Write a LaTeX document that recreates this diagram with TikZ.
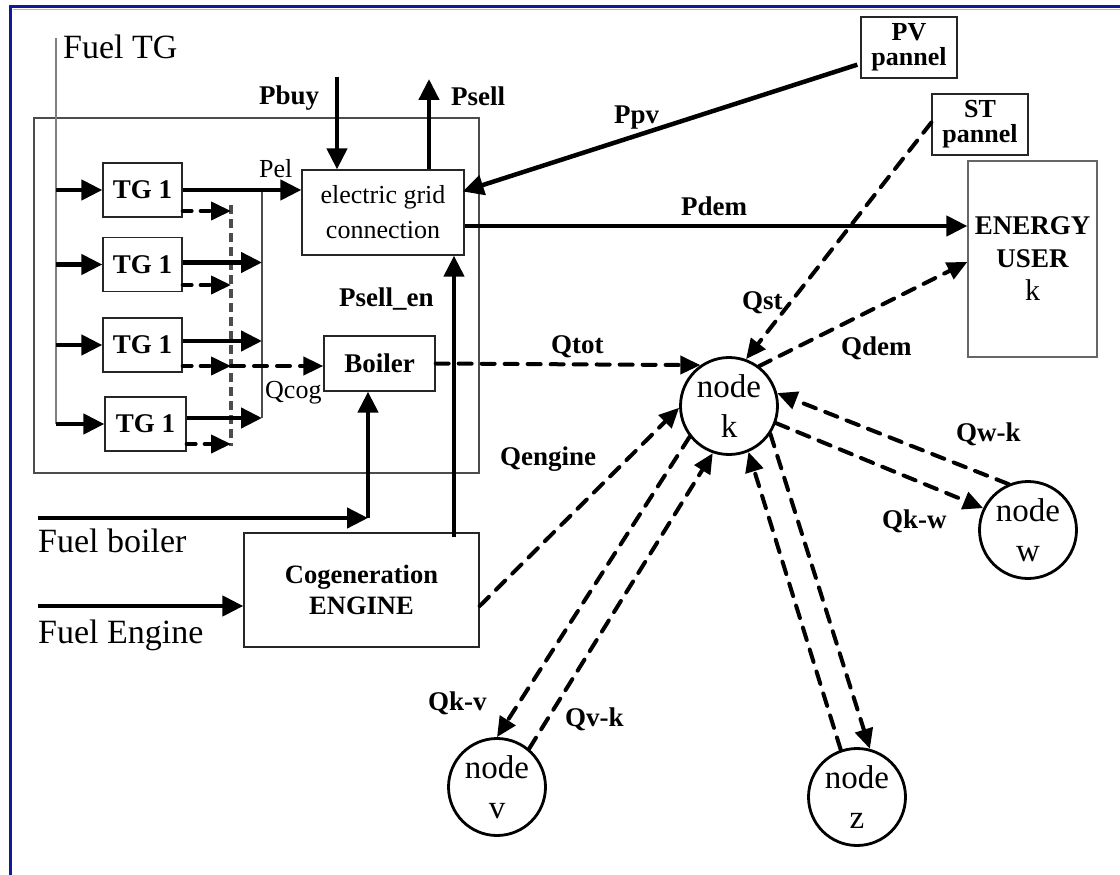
\documentclass[tikz,border=0pt]{standalone}
\usepackage{fontspec}
\setmainfont{Liberation Serif}
\usetikzlibrary{arrows.meta,calc}
\definecolor{frameblue}{RGB}{14,26,150}
\definecolor{framelight}{RGB}{170,180,230}

\tikzset{
  box/.style={draw=black!85, line width=1.3, inner sep=0, align=center},
  tgbox/.style={box, minimum width=79, minimum height=54,
    font=\bfseries\fontsize{27}{30}\selectfont},
  hnode/.style={circle, draw, line width=2.8, minimum size=97, inner sep=0,
    align=center, font=\fontsize{33}{40}\selectfont},
  lbl/.style={anchor=base west, inner sep=0, font=\bfseries\fontsize{27}{27}\selectfont},
  rlbl/.style={anchor=base west, inner sep=0, font=\fontsize{26}{26}\selectfont},
  biglbl/.style={anchor=base west, inner sep=0, font=\fontsize{34}{34}\selectfont},
  pw/.style={line width=4.5, -{Triangle[length=21,width=20]}},
  hd/.style={line width=4, line cap=round, dash pattern=on 13 off 10,
    -{Triangle[length=20,width=18]}},
  thinline/.style={line width=1.1, draw=black!70},
}

\begin{document}
\begin{tikzpicture}[x=1pt,y=-1pt]
\useasboundingbox (0,0) rectangle (1120,875);

% page frame
\draw[line width=1.2, framelight] (13,9.5) -- (1120,9.5);
\draw[line width=3.5, frameblue] (1120,6.5) -- (10.5,6.5) -- (10.5,875);

% turbogas group
\draw[thinline] (34,118) rectangle (479,473);
\node[tgbox] (tg1) at (142.5,190) {TG 1};
\node[tgbox] (tg2) at (142.5,264.5) {TG 1};
\node[tgbox] (tg3) at (142.5,345) {TG 1};
\node[tgbox, minimum width=81] (tg4) at (145.5,424) {TG 1};

% fuel feed line and electric / heat busbars
\coordinate (fueltop) at (56,38);
\coordinate (fuelbot) at (56,424);
\coordinate (bustop) at (262,190);
\coordinate (busbot) at (262,418);
\coordinate (dbtop) at (231,205);
\coordinate (dbbot) at (231,446);
\draw[thinline, draw=black!50] (fueltop) -- (fuelbot);
\draw[thinline] (bustop) -- (busbot);
\draw[line width=3.2, dash pattern=on 9 off 5, gray!60!black] (dbtop) -- (dbbot);

% main components
\node[box, minimum width=162, minimum height=85,
  font=\fontsize{26}{35}\selectfont] (grid) at (383,212.5) {electric grid\\connection};
\node[box, minimum width=111, minimum height=55,
  font=\bfseries\fontsize{27}{30}\selectfont] (boiler) at (379.5,363.5) {Boiler};
\node[box, minimum width=235, minimum height=114,
  font=\bfseries\fontsize{26.5}{31}\selectfont] (cogen) at (361.5,590) {Cogeneration\\ENGINE};
\node[box, minimum width=96, minimum height=61,
  font=\bfseries\fontsize{26}{25}\selectfont] (pv) at (909,47.5) {PV\\pannel};
\node[box, minimum width=96, minimum height=61,
  font=\bfseries\fontsize{26}{25}\selectfont] (st) at (980,124.5) {ST\\pannel};
\node[box, draw=black!60, minimum width=129, minimum height=196,
  font=\bfseries\fontsize{27}{33}\selectfont] (eu) at (1032.5,259)
  {ENERGY\\USER\\{\mdseries\fontsize{30}{34}\selectfont k}};

% thermal nodes
\node[hnode] (nk) at (729,406) {node\\k};
\node[hnode] (nw) at (1028,530) {node\\w};
\node[hnode] (nv) at (497,787) {node\\v};
\node[hnode] (nz) at (857,797) {node\\z};

% fuel to the turbogas units
\draw[pw] (fueltop |- tg1.west) -- (tg1.west);
\draw[pw] (fueltop |- tg2.west) -- (tg2.west);
\draw[pw] (fueltop |- tg3.west) -- (tg3.west);
\draw[pw] (fueltop |- tg4.west) -- (tg4.west);

% electric outputs of the turbogas units
\draw[pw] (tg1.east) -- (tg1.east -| grid.west);
\coordinate (o2) at ($(tg2.east)+(0,-2)$);
\coordinate (o3) at ($(tg3.east)+(0,-4)$);
\coordinate (o4) at ($(tg4.east)+(0,-6)$);
\draw[pw] (o2) -- (o2 -| bustop);
\draw[pw] (o3) -- (o3 -| bustop);
\draw[pw] (o4) -- (o4 -| bustop);

% heat outputs of the turbogas units
\coordinate (d1) at ($(tg1.east)+(0,21)$);
\coordinate (d2) at ($(tg2.east)+(0,20.5)$);
\coordinate (d3) at ($(tg3.east)+(0,21)$);
\coordinate (d4) at ($(tg4.east)+(0,20)$);
\draw[hd, dash pattern=on 9 off 9] (d1) -- (d1 -| dbtop);
\draw[hd, dash pattern=on 9 off 9] (d2) -- (d2 -| dbtop);
\draw[hd, dash pattern=on 9 off 9] (d3) -- (d3 -| dbtop);
\draw[hd, dash pattern=on 9 off 9] (d4) -- (d4 -| dbtop);
\draw[hd] (d3 -| dbtop) -- (d3 -| boiler.west);

% exchanges with the electric grid
\coordinate (pbuytop) at (337,77);
\coordinate (psellend) at (429,79);
\coordinate (penx) at (454,537);
\draw[pw] (pbuytop) -- (pbuytop |- grid.north);
\draw[pw] (psellend |- grid.north) -- (psellend);
\draw[pw] (penx) -- (penx |- grid.south);
\coordinate (ppvs) at ($(pv.south west)+(-3,-14)$);
\coordinate (ppve) at ($(grid.east)+(-2,-21)$);
\draw[pw] (ppvs) -- (ppve);
\coordinate (pdems) at ($(grid.east)+(0,13.5)$);
\draw[pw] (pdems) -- (pdems -| eu.west);

% fuels
\coordinate (fbstart) at (38,518);
\coordinate (fbcorner) at (368,518);
\coordinate (festart) at (38,606);
\draw[pw] (fbstart) -- (fbcorner);
\draw[pw] (fbcorner) -- (fbcorner |- boiler.south);
\draw[pw] (festart) -- (festart -| cogen.west);

% heat flows
\draw[hd] (boiler.east) -- (nk.125);
\draw[hd] ($(cogen.east)+(0,16)$) -- (nk.182);
\draw[hd] ($(st.west)+(0,-2)$) -- (nk.70);
\draw[hd] (nk.53) -- ($(eu.west)+(0,3)$);
\draw[hd] (nk.218) -- (nv.90);
\draw[hd] (nv.50) -- (nk.251);
\draw[hd] (nz.109) -- (nk.293);
\draw[hd] (nk.326) -- (nz.75);
\draw[hd] (nw.113) -- (nk.15);
\draw[hd] (nk.-20) -- (nw.154);

% labels
\node[biglbl] (lfueltg) at (63,59) {Fuel TG};
\node[biglbl] (lfuelb) at (38,552) {Fuel boiler};
\node[biglbl] (lfuele) at (38,643) {Fuel Engine};
\node[lbl] (lpbuy) at (259,105) {Pbuy};
\node[lbl] (lpsell) at (451,106) {Psell};
\node[rlbl] (lpel) at (259,177) {Pel};
\node[lbl] (lppv) at (614,124) {Ppv};
\node[lbl] (lpdem) at (681,215) {Pdem};
\node[lbl] (lpsellen) at (339,306) {Psell\_en};
\node[rlbl] (lqcog) at (265,398) {Qcog};
\node[lbl] (lqtot) at (551,353) {Qtot};
\node[lbl] (lqst) at (742,309) {Qst};
\node[lbl] (lqdem) at (841,355) {Qdem};
\node[lbl] (lqengine) at (500,465) {Qengine};
\node[lbl] (lqwk) at (956,441) {Qw-k};
\node[lbl] (lqkw) at (882,528) {Qk-w};
\node[lbl] (lqkv) at (428,710) {Qk-v};
\node[lbl] (lqvk) at (565,726) {Qv-k};
\end{tikzpicture}
\end{document}
